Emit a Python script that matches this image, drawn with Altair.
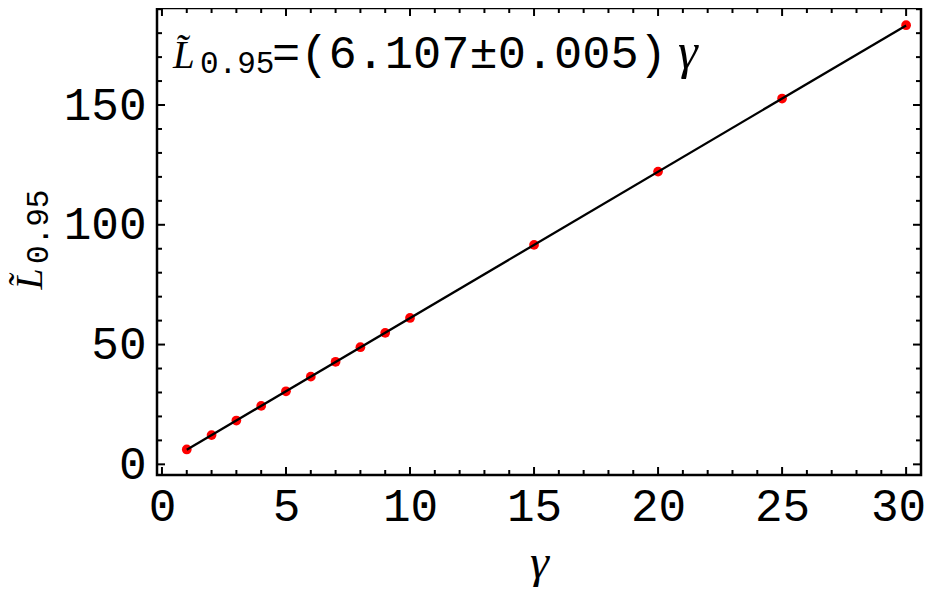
import altair as alt
import pandas as pd

# ---- data ----
gamma = [1, 2, 3, 4, 5, 6, 7, 8, 9, 10, 15, 20, 25, 30]
L095 = [6.2, 12.2, 18.3, 24.4, 30.5, 36.6, 42.8, 48.9, 54.9, 61.1, 91.6, 122.2, 152.7, 183.3]
fit_gamma = [1, 30]
fit_L = [6.107, 183.21]

x_major = [0, 5, 10, 15, 20, 25, 30]
x_minor = [1, 2, 3, 4, 6, 7, 8, 9, 11, 12, 13, 14, 16, 17, 18, 19, 21, 22, 23, 24, 26, 27, 28, 29]
y_major = [0, 50, 100, 150]
y_minor = [10, 20, 30, 40, 60, 70, 80, 90, 110, 120, 130, 140, 160, 170, 180, 190]

# ---- layout ----
W, H = 764, 467
X_DOM = [-0.2, 30.6]
Y_DOM = [-4.45, 190.5]
PXX = (X_DOM[1] - X_DOM[0]) / W
PXY = (Y_DOM[1] - Y_DOM[0]) / H
MAJ, MIN = 8, 5

xscale = alt.Scale(domain=X_DOM, nice=False, zero=False)
yscale = alt.Scale(domain=Y_DOM, nice=False, zero=False)

MONO = "Liberation Mono"
SERIF = "Liberation Serif"

xaxis = alt.Axis(values=x_major, ticks=False, tickSize=0, domain=False, grid=False,
                 labelFont=MONO, labelFontSize=46, labelPadding=9, labelColor="black",
                 labelFlush=False, labelOverlap=False,
                 labelOffset={"condition": {"test": "datum.value == 30", "value": -8}, "value": 0},
                 titleFont=SERIF, titleFontStyle="italic", titleFontWeight="normal",
                 titleFontSize=48, titleColor="black", titleX=382, titleY=102,
                 titleAlign="center", titleBaseline="alphabetic")
yaxis = alt.Axis(values=y_major, ticks=False, tickSize=0, domain=False, grid=False,
                 labelFont=MONO, labelFontSize=46, labelPadding=11, labelColor="black",
                 labelFlush=False, labelOverlap=False,
                 titleFont=SERIF, titleFontStyle="italic", titleFontWeight="normal",
                 titleFontSize=38, titleColor="black", titleAngle=270, titleX=-116, titleY=281,
                 titleAlign="left", titleBaseline="alphabetic")


def X(f):
    return alt.X(f, type="quantitative", scale=xscale, axis=xaxis, title="γ")


def Y(f):
    return alt.Y(f, type="quantitative", scale=yscale, axis=yaxis, title="L̃")


pts = pd.DataFrame({"g": gamma, "L": L095})
fit = pd.DataFrame({"g": fit_gamma, "L": fit_L})

points = alt.Chart(pts).mark_circle(color="#ff0000", size=95, opacity=1).encode(x=X("g"), y=Y("L"))
line = alt.Chart(fit).mark_line(color="black", strokeWidth=2.3).encode(x=X("g"), y=Y("L"))

# tick marks (inward, on all four sides)
vt = []
for v in x_major + x_minor:
    ln = MAJ if v in x_major else MIN
    vt.append({"x": v, "y": Y_DOM[0], "y2": Y_DOM[0] + ln * PXY})
    vt.append({"x": v, "y": Y_DOM[1], "y2": Y_DOM[1] - ln * PXY})
ht = []
for v in y_major + y_minor:
    ln = MAJ if v in y_major else MIN
    ht.append({"y": v, "x": X_DOM[0], "x2": X_DOM[0] + ln * PXX})
    ht.append({"y": v, "x": X_DOM[1], "x2": X_DOM[1] - ln * PXX})

vticks = alt.Chart(pd.DataFrame(vt)).mark_rule(color="black", strokeWidth=2).encode(
    x=X("x"), y=Y("y"), y2="y2")
hticks = alt.Chart(pd.DataFrame(ht)).mark_rule(color="black", strokeWidth=2).encode(
    y=Y("y"), x=X("x"), x2="x2")

# annotation inside the plot: L̃_{0.95}=(6.107±0.005)γ
ANX, ANY = 0.445, 165.45
ann = pd.DataFrame({"x": [ANX], "y": [ANY]})
a_L = alt.Chart(ann).mark_text(text="L̃", font=SERIF, fontStyle="italic", fontSize=39,
                                align="left", baseline="alphabetic", color="black").encode(x=X("x"), y=Y("y"))
a_sub = alt.Chart(ann).mark_text(text="0.95", font=MONO, fontSize=31, dx=27, dy=5,
                                  align="left", baseline="alphabetic", color="black").encode(x=X("x"), y=Y("y"))
a_eq = alt.Chart(ann).mark_text(text="=(6.107±0.005)", font=MONO, fontSize=47, dx=99,
                                 align="left", baseline="alphabetic", color="black").encode(x=X("x"), y=Y("y"))
a_g = alt.Chart(ann).mark_text(text="γ", font=SERIF, fontStyle="italic", fontSize=50, dx=505,
                                align="left", baseline="alphabetic", color="black").encode(x=X("x"), y=Y("y"))

# subscript of the y-axis title
ysub = alt.Chart(pd.DataFrame({"t": ["0.95"]})).mark_text(
    font=MONO, fontSize=31, angle=270, align="left", baseline="alphabetic", color="black"
).encode(text="t:N", x=alt.value(-109), y=alt.value(256))

chart = alt.layer(points, line, vticks, hticks, a_L, a_sub, a_eq, a_g, ysub).properties(
    width=W, height=H,
    autosize=alt.AutoSizeParams(type="none"),
    padding={"left": 149, "top": 0, "right": 5, "bottom": 112},
    background="white",
).configure_view(stroke="black", strokeWidth=2.5)

chart.save("out.html", embed_options={"renderer": "svg", "actions": False})
